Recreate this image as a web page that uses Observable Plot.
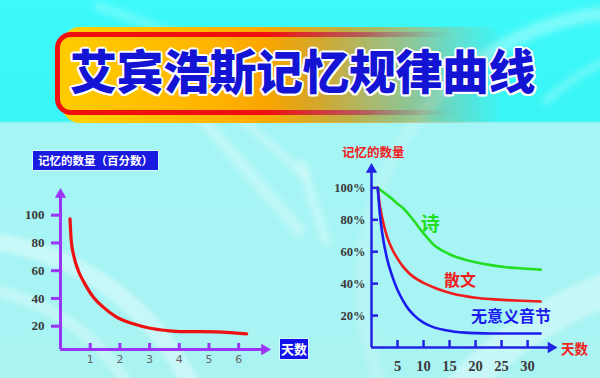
<!DOCTYPE html>
<html><head><meta charset="utf-8">
<script src="https://cdn.jsdelivr.net/npm/d3@7"></script>
<script src="https://cdn.jsdelivr.net/npm/@observablehq/plot@0.6"></script>
<style>
html,body{margin:0;padding:0;}
body{width:600px;height:378px;overflow:hidden;position:relative;font-family:"Noto Sans CJK SC",sans-serif;
 background:linear-gradient(to bottom,#3ef9f9 0px,#3af5f5 121px,#a4f5f5 123px,#aaf3f3 378px);}
.sw{position:absolute;border-radius:50%;border-style:solid;border-color:rgba(255,255,255,0.38);filter:blur(2px);}
.st{position:absolute;height:12px;background:rgba(255,255,255,0.3);filter:blur(3px);transform-origin:0 50%;}
#banner{position:absolute;left:48px;top:26px;width:455px;height:98px;
 -webkit-mask-image:linear-gradient(to right,#000 48%,rgba(0,0,0,0.5) 80%,transparent 100%);mask-image:linear-gradient(to right,#000 48%,rgba(0,0,0,0.5) 80%,transparent 100%);}
#glow{position:absolute;left:14px;top:1px;right:0;height:96px;border-radius:18px;background:linear-gradient(to right,#ffd400,#ffb000 40%,#f29400 65%,#c8a070)}
#red{position:absolute;left:7px;top:6px;right:6px;height:83px;border-radius:16px;background:linear-gradient(to right,#f01010 70%,rgba(240,16,16,0) 92%)}
#fill{position:absolute;left:12px;top:11px;right:11px;height:73px;border-radius:11px;background:linear-gradient(to right,#ffcc00,#ffb400 35%,#f59600 60%,#c89a70)}
#title{position:absolute;left:70px;top:45px;font-size:47px;line-height:47px;font-weight:900;letter-spacing:-0.5px;color:#1414d4;white-space:nowrap;
 text-shadow:2px 0 #fff,-2px 0 #fff,0 2px #fff,0 -2px #fff,1.5px 1.5px #fff,-1.5px 1.5px #fff,1.5px -1.5px #fff,-1.5px -1.5px #fff;}
.box{position:absolute;background:#1a1ae0;color:#fff;font-weight:bold;text-align:center;white-space:nowrap;box-shadow:0 0 0 1px rgba(255,255,255,0.5);}
.red{position:absolute;color:#f02020;font-weight:bold;white-space:nowrap;}
.chart{position:absolute;top:140px;}
</style></head>
<body>
<div class="sw" style="left:-310px;top:230px;width:500px;height:500px;border-width:18px;"></div>
<div class="sw" style="left:-260px;top:280px;width:400px;height:400px;border-width:12px;border-color:rgba(255,255,255,0.3)"></div>
<div class="sw" style="left:350px;top:250px;width:700px;height:700px;border-width:34px;border-color:rgba(255,255,255,0.35)"></div>
<div class="sw" style="left:355px;top:5px;width:530px;height:530px;border-width:14px;border-color:rgba(255,255,255,0.32) transparent transparent rgba(255,255,255,0.18);filter:blur(3px)"></div>
<div class="sw" style="left:480px;top:40px;width:400px;height:400px;border-width:8px;border-color:rgba(255,255,255,0.25) transparent transparent transparent;filter:blur(3px)"></div>
<div class="st" style="left:191px;top:100px;width:170px;transform:rotate(49deg);"></div>
<div class="st" style="left:225px;top:100px;width:110px;transform:rotate(42deg);height:8px"></div>
<div class="st" style="left:300px;top:155px;width:90px;transform:rotate(72deg);height:10px"></div>
<div class="st" style="left:95px;top:0px;width:90px;transform:rotate(20deg);height:10px;background:rgba(255,255,255,0.22)"></div>

<div id="banner"><div id="glow"></div><div id="red"></div><div id="fill"></div></div>
<div id="title">艾宾浩斯记忆规律曲线</div>

<div id="left" class="chart" style="left:0px"></div>
<div id="right" class="chart" style="left:300px"></div>

<div class="box" style="left:33px;top:151px;width:125px;height:19px;line-height:19px;font-size:11.5px;">记忆的数量（百分数）</div>
<div class="box" style="left:280px;top:339px;width:28px;height:20px;line-height:20px;font-size:13px;background:#1212ea">天数</div>
<div class="red" style="left:342px;top:144px;font-size:12.5px;line-height:16px;">记忆的数量</div>
<div class="red" style="left:561px;top:339px;font-size:13.5px;line-height:18px;">天数</div>

<script>
// ---- Left chart: Ebbinghaus forgetting curve (percent retained vs days)
const leftDays   = [0.32, 0.36, 0.45, 0.60, 0.82, 1.10, 1.44, 1.89, 2.45, 3.02, 3.58, 4.13, 4.70, 5.26, 5.82, 6.27];
const leftRecall = [97.3, 82.0, 70.5, 60.0, 50.5, 41.0, 33.7, 26.5, 21.7, 18.5, 16.9, 16.1, 16.1, 15.9, 15.2, 14.5];
const leftYTicks = [20, 40, 60, 80, 100];
const leftXTicks = [1, 2, 3, 4, 5, 6];

// ---- Right chart: retention by material type
const rightDays  = [1.2, 1.6, 2, 3, 4, 5, 6, 7, 8, 10, 12, 14, 16, 18, 20, 23, 26, 29, 32.5];
const poem       = [100, 99, 98, 95.5, 93, 90, 87.5, 84, 80, 71.5, 64.2, 60, 57, 55, 53.4, 51.6, 50.3, 49.5, 48.8];
const prose      = [100, 89, 82, 69.3, 61.4, 55.7, 51, 47.3, 44.4, 40.5, 37.6, 35.2, 33.4, 32.2, 31.2, 30.3, 29.7, 29.3, 28.8];
const nonsense   = [100, 84, 73, 55.5, 44.5, 36, 29.7, 24.5, 20.8, 15.6, 12.6, 10.9, 9.9, 9.3, 9.0, 8.8, 8.8, 8.8, 8.8];
const seriesNames  = ["诗", "散文", "无意义音节"];
const labelDays    = [11.3, 17, 26.8];
const labelValues  = [77, 42, 19];
const rightYTicks = [20, 40, 60, 80, 100];
const rightXTicks = [5, 10, 15, 20, 25, 30];

const serif = "'Liberation Serif','DejaVu Serif',serif";
const purple = "#9a35f5";
const blueAx = "#2323e6";

// left
const L = {xMax: 6.87, yMin: 3.2, yMax: 114.9};
const leftData = leftDays.map((d, i) => ({day: d, recall: leftRecall[i]}));
const leftPlot = Plot.plot({
  width: 300, height: 238,
  marginLeft: 60, marginRight: 36, marginTop: 54, marginBottom: 29,
  style: {background: "transparent", overflow: "visible"},
  x: {domain: [0, L.xMax]},
  y: {domain: [L.yMin, L.yMax]},
  marks: [
    Plot.axisY(leftYTicks, {tickSize: 9, tickPadding: 7, stroke: purple, strokeWidth: 3, fill: "#3a3a3a",
      fontSize: 13, fontWeight: "bold", fontFamily: serif, label: null}),
    Plot.axisX(leftXTicks, {tickSize: -6, tickPadding: 12, stroke: purple, strokeWidth: 3, fill: "#666",
      fontSize: 11, fontFamily: "'DejaVu Sans',sans-serif", label: null}),
    Plot.ruleX([0], {y1: L.yMin, y2: L.yMax, stroke: purple, strokeWidth: 3}),
    Plot.ruleY([L.yMin], {x1: 0, x2: L.xMax, stroke: purple, strokeWidth: 3}),
    Plot.dot([0], {x: 0, y: L.yMax, symbol: "triangle", r: 4.2, fill: purple, stroke: null}),
    Plot.dot([0], {x: L.xMax, y: L.yMin, symbol: "triangle", rotate: 90, r: 4.2, fill: purple, stroke: null}),
    Plot.line(leftData, {x: "day", y: "recall", stroke: "#ee1111", strokeWidth: 3.2, curve: "monotone-x"})
  ]
});
document.getElementById("left").appendChild(leftPlot);

// right
const R = {xMax: 34.5, yMax: 111.5};
const series = [
  {name: seriesNames[0], values: poem, color: "#22dd22", size: 19},
  {name: seriesNames[1], values: prose, color: "#ee1c1c", size: 16},
  {name: seriesNames[2], values: nonsense, color: "#1c1cee", size: 16}
];
const rightData = series.flatMap(s => rightDays.map((d, i) => ({series: s.name, day: d, recall: s.values[i]})));
const labelData = seriesNames.map((n, i) => ({series: n, day: labelDays[i], recall: labelValues[i]}));
const rightPlot = Plot.plot({
  width: 300, height: 238,
  marginLeft: 71, marginRight: 49.5, marginTop: 29, marginBottom: 31,
  style: {background: "transparent", overflow: "visible"},
  x: {domain: [0, R.xMax]},
  y: {domain: [0, R.yMax]},
  marks: [
    Plot.axisY(rightYTicks, {tickSize: -7, tickPadding: 13, stroke: blueAx, strokeWidth: 2.5, fill: "#3a3a3a",
      fontSize: 12.5, fontWeight: "bold", fontFamily: serif, tickFormat: d => d + "%", label: null}),
    Plot.axisX(rightXTicks, {tickSize: -7, tickPadding: 20, stroke: blueAx, strokeWidth: 2.5, fill: "#3a3a3a",
      fontSize: 14.5, fontWeight: "bold", fontFamily: serif, label: null}),
    Plot.ruleX([0], {y1: 0, y2: R.yMax, stroke: blueAx, strokeWidth: 2.5}),
    Plot.ruleY([0], {x1: 0, x2: R.xMax, stroke: blueAx, strokeWidth: 2.5}),
    Plot.dot([0], {x: 0, y: R.yMax, symbol: "triangle", r: 4.2, fill: blueAx, stroke: null}),
    Plot.dot([0], {x: R.xMax, y: 0, symbol: "triangle", rotate: 90, r: 4.2, fill: blueAx, stroke: null}),
    ...series.map(s => Plot.line(rightData.filter(d => d.series === s.name),
      {x: "day", y: "recall", stroke: s.color, strokeWidth: 2.6, curve: "monotone-x"})),
    ...series.map(s => Plot.text(labelData.filter(d => d.series === s.name),
      {x: "day", y: "recall", text: "series", fill: s.color, fontSize: s.size, fontWeight: "bold",
       fontFamily: "'Noto Sans CJK SC',sans-serif"}))
  ]
});
document.getElementById("right").appendChild(rightPlot);
</script>
</body></html>
